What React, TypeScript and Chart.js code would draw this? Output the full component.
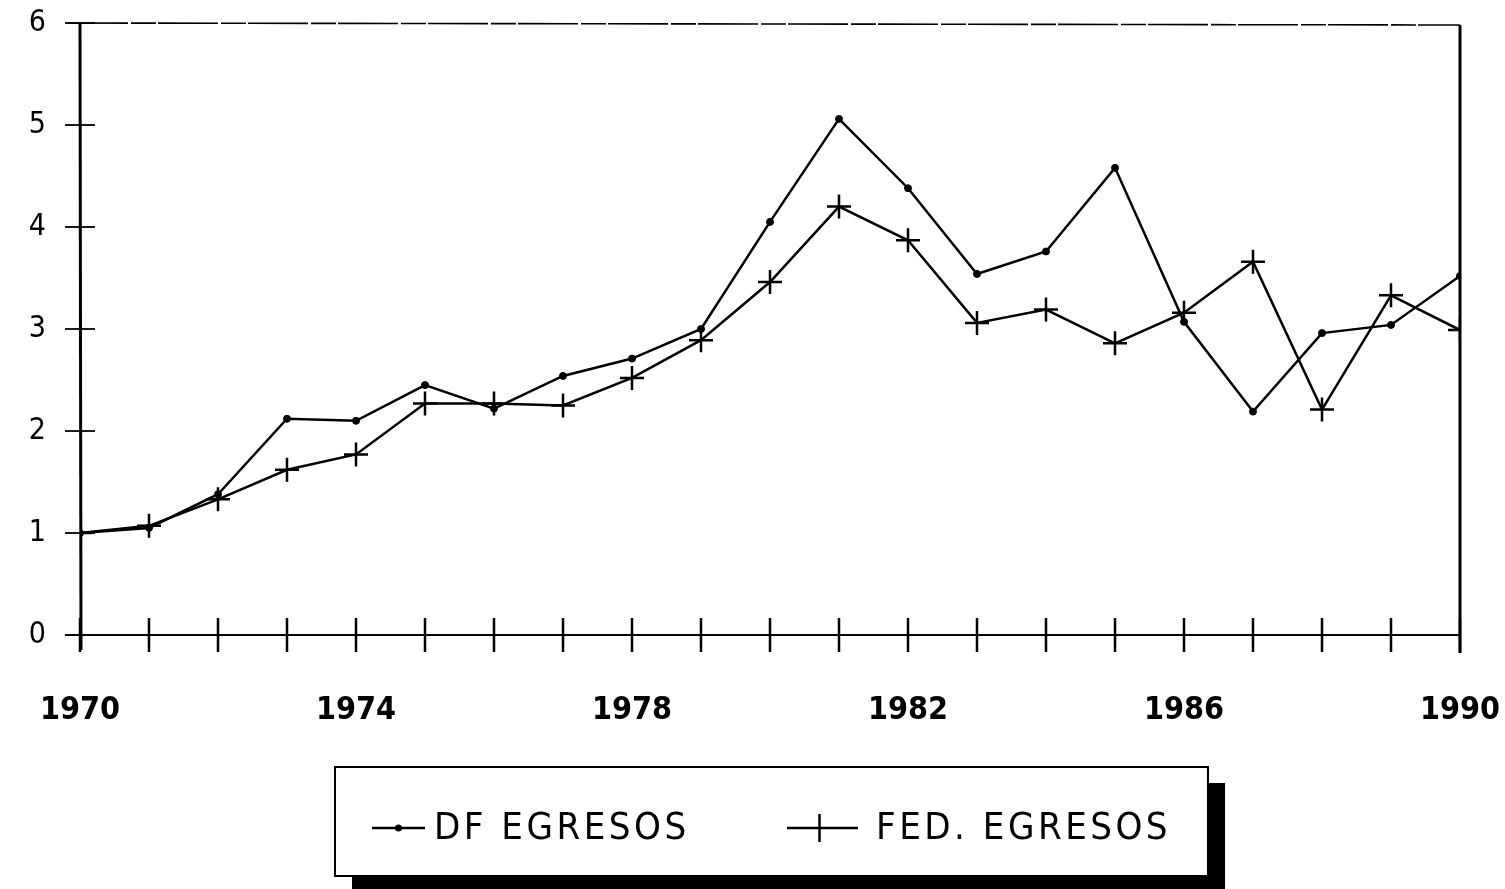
import React, { useEffect, useRef } from "react";
import { Chart, registerables } from "chart.js";

Chart.register(...registerables);

const years = [1970, 1971, 1972, 1973, 1974, 1975, 1976, 1977, 1978, 1979, 1980, 1981, 1982, 1983, 1984, 1985, 1986, 1987, 1988, 1989, 1990];
const dfEgresos = [1.0, 1.05, 1.38, 2.12, 2.1, 2.45, 2.22, 2.54, 2.71, 3.0, 4.05, 5.06, 4.38, 3.54, 3.76, 4.58, 3.07, 2.19, 2.96, 3.04, 3.52];
const fedEgresos = [1.0, 1.07, 1.33, 1.62, 1.77, 2.27, 2.27, 2.25, 2.52, 2.89, 3.46, 4.2, 3.87, 3.06, 3.19, 2.86, 3.16, 3.66, 2.21, 3.33, 2.99];
const xLabelYears = [1970, 1974, 1978, 1982, 1986, 1990];
const yTicks = [0, 1, 2, 3, 4, 5, 6];
const seriesLabels = ["DF EGRESOS", "FED. EGRESOS"];

const FONT = "'DejaVu Sans Condensed', 'Liberation Sans Narrow', 'DejaVu Sans', sans-serif";

const zeroPad = (s: any) => {
  s.paddingLeft = 0;
  s.paddingRight = 0;
  s.paddingTop = 0;
  s.paddingBottom = 0;
};

const framePlugin = {
  id: "frame",
  beforeDatasetsDraw(chart: any) {
    const { ctx, chartArea: a, scales } = chart;
    const xs = scales.x;
    const ys = scales.y;
    ctx.save();
    ctx.strokeStyle = "#000";
    // top border
    ctx.lineWidth = 1.6;
    ctx.setLineDash([60, 3, 25, 2]);
    ctx.beginPath();
    ctx.moveTo(a.left - 12, a.top);
    ctx.lineTo(a.right, a.top + 2);
    ctx.stroke();
    ctx.setLineDash([]);
    // left axis
    ctx.lineWidth = 3;
    ctx.beginPath();
    ctx.moveTo(a.left, a.top);
    ctx.lineTo(a.left + 1, a.bottom + 15);
    ctx.stroke();
    // right border
    ctx.beginPath();
    ctx.moveTo(a.right, a.top + 2);
    ctx.lineTo(a.right, a.bottom + 18);
    ctx.stroke();
    // bottom axis
    ctx.lineWidth = 2;
    ctx.beginPath();
    ctx.moveTo(a.left - 15, a.bottom);
    ctx.lineTo(a.right, a.bottom);
    ctx.stroke();
    // x ticks crossing
    ctx.lineWidth = 2.5;
    years.forEach((yr) => {
      const px = xs.getPixelForValue(yr);
      ctx.beginPath();
      ctx.moveTo(px, a.bottom - 17);
      ctx.lineTo(px, a.bottom + 17);
      ctx.stroke();
    });
    // y ticks crossing
    ctx.lineWidth = 1.8;
    yTicks.forEach((v) => {
      const py = ys.getPixelForValue(v);
      ctx.beginPath();
      ctx.moveTo(a.left - 15, py);
      ctx.lineTo(a.left + 15, py);
      ctx.stroke();
    });
    ctx.restore();
  },
};

const legendPlugin = {
  id: "boxLegend",
  afterDraw(chart: any) {
    const { ctx } = chart;
    const bx = 335, by = 767, bw = 873, bh = 109;
    ctx.save();
    // shadow
    ctx.fillStyle = "#000";
    ctx.fillRect(bx + bw, by + 16, 17, bh + 13 - 16 + 3);
    ctx.fillRect(bx + 17, by + bh, bw, 16);
    // box
    ctx.fillStyle = "#fff";
    ctx.fillRect(bx, by, bw, bh);
    ctx.strokeStyle = "#000";
    ctx.lineWidth = 2;
    ctx.strokeRect(bx, by, bw, bh);

    const cy = 828;
    const items = [
      { sx: 372, ex: 425, tx: 434, label: chart.data.datasets[0].label, style: "dot" },
      { sx: 787, ex: 858, tx: 876, label: chart.data.datasets[1].label, style: "cross" },
    ];
    items.forEach((it) => {
      ctx.strokeStyle = "#000";
      ctx.lineWidth = 2.5;
      ctx.beginPath();
      ctx.moveTo(it.sx, cy);
      ctx.lineTo(it.ex, cy);
      ctx.stroke();
      const mx = (it.sx + it.ex) / 2;
      if (it.style === "dot") {
        ctx.fillStyle = "#000";
        ctx.beginPath();
        ctx.arc(mx, cy, 3.5, 0, Math.PI * 2);
        ctx.fill();
      } else {
        ctx.beginPath();
        ctx.moveTo(mx - 3, cy - 14);
        ctx.lineTo(mx - 3, cy + 14);
        ctx.stroke();
      }
      ctx.fillStyle = "#000";
      ctx.font = `38px ${FONT}`;
      try {
        (ctx as any).letterSpacing = "3.5px";
      } catch (e) {}
      ctx.textAlign = "left";
      ctx.textBaseline = "middle";
      ctx.fillText(it.label, it.tx, cy + 1);
    });
    ctx.restore();
  },
};

export default function App() {
  const ref = useRef<HTMLCanvasElement | null>(null);
  useEffect(() => {
    document.body.style.margin = "0";
    const canvas = ref.current;
    if (!canvas) return;
    const chart = new Chart(canvas, {
      type: "line",
      data: {
        datasets: [
          {
            label: seriesLabels[0],
            data: years.map((x, i) => ({ x, y: dfEgresos[i] })),
            borderColor: "#000",
            backgroundColor: "#000",
            borderWidth: 2.5,
            pointStyle: "circle",
            pointRadius: 3.5,
            pointBackgroundColor: "#000",
            pointBorderColor: "#000",
            pointBorderWidth: 1,
            tension: 0,
          },
          {
            label: seriesLabels[1],
            data: years.map((x, i) => ({ x, y: fedEgresos[i] })),
            borderColor: "#000",
            backgroundColor: "#000",
            borderWidth: 2.5,
            pointStyle: "cross",
            pointRadius: 12,
            pointBorderColor: "#000",
            pointBorderWidth: 2.5,
            tension: 0,
          },
        ],
      },
      options: {
        responsive: false,
        animation: false,
        layout: { padding: { top: 23, right: 45, left: 0, bottom: 0 } },
        plugins: { legend: { display: false }, tooltip: { enabled: false } },
        scales: {
          x: {
            type: "linear",
            min: 1970,
            max: 1990,
            grid: { display: false, drawTicks: false },
            border: { display: false },
            ticks: {
              stepSize: 1,
              autoSkip: false,
              maxRotation: 0,
              padding: 56,
              color: "#000",
              font: { family: FONT, size: 32, weight: "bold" },
              callback: (v: any) => (xLabelYears.includes(Number(v)) ? String(v) : ""),
            },
            afterFit: (s: any) => {
              s.height = 254;
              zeroPad(s);
            },
          },
          y: {
            min: 0,
            max: 6,
            grid: { display: false, drawTicks: false },
            border: { display: false },
            ticks: {
              stepSize: 1,
              padding: 34,
              color: "#000",
              font: { family: FONT, size: 30 },
              callback: (v: any) => (yTicks.includes(Number(v)) ? String(v) : ""),
            },
            afterFit: (s: any) => {
              s.width = 80;
              zeroPad(s);
            },
          },
        },
      },
      plugins: [framePlugin, legendPlugin],
    } as any);
    return () => chart.destroy();
  }, []);
  return (
    <div style={{ width: 1505, height: 889, background: "#fff" }}>
      <canvas ref={ref} width={1505} height={889} />
    </div>
  );
}
